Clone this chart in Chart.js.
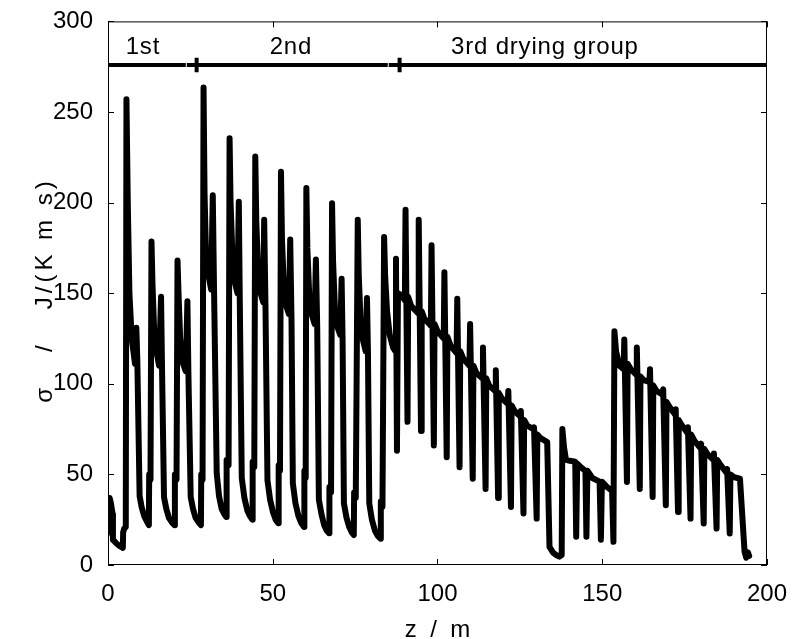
<!DOCTYPE html>
<html>
<head>
<meta charset="utf-8">
<script src="https://cdn.jsdelivr.net/npm/chart.js@4.4.1/dist/chart.umd.min.js"></script>
<style>
  html, body { margin: 0; padding: 0; background: #fff; }
  #wrap { width: 794px; height: 639px; position: relative; }
</style>
</head>
<body>
<div id="wrap"><canvas id="entropyChart"></canvas></div>
<script>
// z / m and sigma / J/(K m s), one drying group each
const groupOneZ = [0, 0.3, 0.5, 0.9, 1.4, 1.5, 2.5, 3.5, 4.5, 4.6, 4.9, 5.4, 5.6,
  6.0, 6.5, 7.2, 8.2, 8.6, 8.9, 9.6, 10.2, 11.0, 11.8, 12.4, 12.5, 12.9, 13.2,
  13.5, 14.0, 14.6, 15.5, 16.1, 16.4, 17.0, 17.7, 18.5, 19.4, 20.2, 20.3, 20.8, 21.1,
  21.4, 21.9, 22.6, 23.6, 24.1, 24.4, 25.1, 25.8, 26.6]
const groupOneSigma = [19, 18, 37, 34, 28, 14, 12, 10.5, 9.5, 18, 20, 21, 257,
  200, 150, 125, 111, 131, 113, 38, 32, 27, 24, 22, 50, 47, 178.5,
  155, 130, 119, 110, 148, 108, 37.5, 31, 26, 23.5, 22, 50, 47, 168,
  150, 125, 112, 107, 145.5, 106, 37.5, 31, 26]

const groupTwoZ = [27.5, 28.2, 28.3, 28.7, 29.0,
  29.3, 29.7, 30.3, 31.3, 31.8, 32.2, 33.0, 33.7, 34.5, 35.3, 35.9, 36.0, 36.6, 36.9,
  37.2, 37.8, 38.5, 39.3, 39.7, 40.0, 40.6, 41.4, 42.3, 43.1, 43.8, 43.9, 44.4, 44.7,
  45.0, 45.6, 46.3, 47.1, 47.4, 47.8, 48.4, 49.2, 50.1, 50.9, 51.7, 51.8, 52.2, 52.5,
  52.8, 53.4, 54.1, 54.9, 55.3, 55.7, 56.1, 56.9, 57.8, 58.7, 59.5, 59.6, 60.0, 60.2,
  60.5, 61.1, 61.9, 62.7, 63.1, 63.5, 64.0, 64.8, 65.6, 66.4, 67.1, 67.2, 67.7, 68.0,
  68.3, 68.9, 69.7, 70.5, 70.9, 71.2, 71.6, 72.4, 73.2, 74.0, 74.6, 74.7, 75.2, 75.8,
  76.1, 76.7, 77.4, 78.2, 78.6, 78.9, 79.3, 80.1, 81.0, 81.9, 82.7, 82.8, 83.3, 83.8,
  84.1, 84.7, 85.5, 86.5, 87.2]
const groupTwoSigma = [23.5, 22, 50, 47, 263.5,
  205, 175, 162, 152, 204, 150, 50.5, 38, 31, 28, 26.5, 58, 55, 235.5,
  200, 169, 156, 150, 200.5, 145, 48, 37, 30, 27, 25, 57, 54, 225.5,
  190, 160, 150, 145, 190.5, 142, 46.7, 36, 29, 25, 23, 55, 52, 217,
  180, 152, 143, 138.5, 179.6, 134.6, 45, 34, 27, 23, 21, 52, 48, 208,
  175, 148, 138, 133, 168.6, 131, 36, 28, 22, 19, 17.5, 43, 40, 199.6,
  168, 140, 131, 127, 158, 123.6, 34, 26, 21, 18, 16.5, 40, 37, 190.5,
  160, 133, 124, 118, 147.4, 116.5, 34, 25, 19, 16, 14.5, 35, 32, 181,
  160, 140, 127, 120, 118]

const groupThreeZ = [87.4, 87.7, 88.0, 89.0, 90.1,
  90.3, 90.9, 91.1, 92.0, 94.1,
  94.3, 95.0, 95.2, 96.0, 98.0,
  98.2, 98.9, 99.1, 100.0, 101.9,
  102.1, 102.8, 103.0, 104.0, 105.8,
  106.0, 106.7, 106.9, 107.8, 109.7,
  109.9, 110.7, 110.9, 111.8, 113.6,
  113.8, 114.6, 114.8, 115.7, 117.5,
  117.7, 118.4, 118.6, 119.5, 121.3,
  121.5, 122.3, 122.5, 123.4, 125.1,
  125.3, 126.1, 126.3, 127.2, 129.1,
  129.3, 130.1, 130.3, 131.3, 133.3,
  134.0, 135.0, 136.0, 137.0, 137.7,
  137.9, 138.4, 139.0, 140.2, 141.8,
  142.1, 142.4, 143.5, 144.9,
  145.2, 145.5, 147.0, 149.2,
  149.6, 149.9, 151.5, 153.0,
  153.4, 153.7, 154.2, 155.2, 156.5,
  156.7, 157.5, 157.7, 158.7, 160.3,
  160.5, 161.4, 161.6, 162.6, 164.3,
  164.5, 165.3, 165.5, 166.5, 168.3,
  168.5, 169.3, 169.5, 170.5, 172.1,
  172.3, 173.0, 173.2, 174.2, 175.8,
  176.0, 176.8, 177.0, 178.0, 179.8,
  180.0, 180.8, 181.0, 182.0, 183.7,
  183.9, 184.7, 184.9, 186.0, 187.7,
  187.9, 188.7, 188.9, 190.0, 191.8,
  193.2, 193.7, 194.2, 194.6]
const groupThreeSigma = [169, 63, 150, 149, 146,
  196, 79, 148, 143, 139,
  190.5, 74, 140, 136, 132,
  176.5, 66, 133, 129, 125,
  161.5, 59.5, 126, 121, 117,
  147, 54, 118, 114, 110,
  133, 47.6, 110, 106, 103,
  120, 42, 103, 99, 96,
  107.5, 37, 95, 92, 89,
  96, 32, 88, 85, 82,
  85, 28.4, 80, 77, 75,
  76, 25.6, 72, 70, 67.8,
  10, 7, 5.5, 4.6, 5.5,
  75, 65, 58, 57.5, 57,
  15.6, 56, 54, 52,
  15.6, 52, 48, 46,
  14, 46, 43, 41,
  12.8, 129, 118, 110, 108,
  124.5, 45.8, 111, 108, 105,
  120, 42, 104, 102, 101,
  108, 37.5, 99, 96, 94,
  97, 33, 90, 87, 83,
  86, 29.3, 80, 77, 73,
  76, 25.6, 72, 68.5, 64.5,
  67, 22.9, 64, 61, 58,
  61.5, 20.1, 58, 55, 51,
  53, 17.4, 50, 48.5, 47.6,
  7.3, 4, 7, 5]

// drying group bar along the top
const bandZ = [0, 23.6, 23.75, 23.9, 84.9, 85.05, 85.2, 200]
const bandSigma = [276, 276, null, 276, 276, null, 276, 276]
const groupMarkZ = [26.9, 26.9, 27.0, 88.5, 88.5]
const groupMarkSigma = [272, 280, null, 272, 280]
const bandLabels = ['1st', '2nd', '3rd drying group']
const bandLabelZ = [10.6, 55.5, 132.6]
const bandLabelSigma = 285.5

const xTicks = [0, 50, 100, 150, 200]
const yTicks = [0, 50, 100, 150, 200, 250, 300]

const toPoints = (zs, ss) => zs.map((z, i) => ({ x: z, y: ss[i] }))
const sigmaPoints = [].concat(
  toPoints(groupOneZ, groupOneSigma),
  toPoints(groupTwoZ, groupTwoSigma),
  toPoints(groupThreeZ, groupThreeSigma)
)

const FONT = '"Liberation Sans", Arial, Helvetica, sans-serif'

const frameAndText = {
  id: 'frameAndText',
  afterDatasetsDraw(chart) {
    const { ctx, chartArea: a, scales: { x, y } } = chart
    ctx.save()
    ctx.strokeStyle = '#000'
    ctx.lineWidth = 1
    ctx.strokeRect(a.left + 0.5, a.top + 0.5, a.right - a.left - 1, a.bottom - a.top - 1)
    ctx.beginPath()
    xTicks.forEach(v => {
      const px = Math.round(x.getPixelForValue(v)) + 0.5
      ctx.moveTo(px, a.bottom); ctx.lineTo(px, a.bottom - 6)
      ctx.moveTo(px, a.top); ctx.lineTo(px, a.top + 6)
    })
    yTicks.forEach(v => {
      const py = Math.round(y.getPixelForValue(v)) + 0.5
      ctx.moveTo(a.left, py); ctx.lineTo(a.left + 6, py)
      ctx.moveTo(a.right, py); ctx.lineTo(a.right - 6, py)
    })
    ctx.stroke()

    ctx.fillStyle = '#000'
    ctx.font = '24px ' + FONT
    ctx.textAlign = 'center'
    ctx.textBaseline = 'middle'
    ctx.letterSpacing = '0.8px'
    bandLabels.forEach((t, i) => {
      ctx.fillText(t, x.getPixelForValue(bandLabelZ[i]), y.getPixelForValue(bandLabelSigma))
    })

    ctx.letterSpacing = '0px'
    ctx.textBaseline = 'alphabetic'
    ctx.fillText('z  /  m', (a.left + a.right) / 2, 637)

    ctx.translate(45, 290)
    ctx.rotate(-Math.PI / 2)
    ctx.textBaseline = 'middle'
    ctx.letterSpacing = '4px'
    ctx.fillText('σ   /   J/(K m s)', 0, 0)
    ctx.restore()
  }
}

new Chart(document.getElementById('entropyChart'), {
  type: 'line',
  data: {
    datasets: [
      {
        data: sigmaPoints,
        borderColor: '#000',
        borderWidth: 6,
        borderJoinStyle: 'round',
        borderCapStyle: 'round',
        pointRadius: 0,
        tension: 0
      },
      {
        data: toPoints(bandZ, bandSigma),
        borderColor: '#000',
        borderWidth: 4,
        pointRadius: 0,
        spanGaps: false
      },
      {
        data: toPoints(groupMarkZ, groupMarkSigma),
        borderColor: '#000',
        borderWidth: 4,
        pointRadius: 0,
        spanGaps: false
      }
    ]
  },
  options: {
    responsive: true,
    maintainAspectRatio: false,
    animation: false,
    layout: { padding: { left: 0, right: 24, top: 19, bottom: 0 } },
    plugins: { legend: { display: false }, tooltip: { enabled: false } },
    scales: {
      x: {
        type: 'linear',
        min: 0,
        max: 200,
        afterFit: s => { s.height = 74 },
        afterBuildTicks: s => { s.ticks = xTicks.map(v => ({ value: v })) },
        grid: { display: false },
        border: { display: false },
        ticks: { color: '#000', padding: 7, font: { size: 24, family: FONT }, maxRotation: 0 }
      },
      y: {
        type: 'linear',
        min: 0,
        max: 300,
        afterFit: s => { s.width = 108 },
        afterBuildTicks: s => { s.ticks = yTicks.map(v => ({ value: v })) },
        grid: { display: false },
        border: { display: false },
        ticks: { color: '#000', padding: 7, font: { size: 24, family: FONT } }
      }
    }
  },
  plugins: [frameAndText]
})
</script>
</body>
</html>
